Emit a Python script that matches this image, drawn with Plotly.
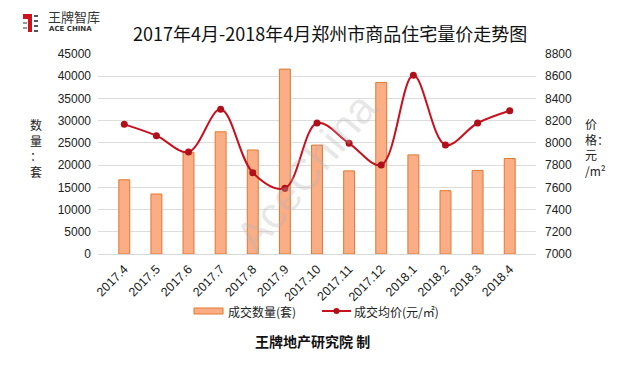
import plotly.graph_objects as go

months = ["2017.4", "2017.5", "2017.6", "2017.7", "2017.8", "2017.9", "2017.10",
          "2017.11", "2017.12", "2018.1", "2018.2", "2018.3", "2018.4"]
volume = [16700, 13500, 22900, 27500, 23400, 41600, 24500, 18700, 38600, 22300, 14250, 18800, 21500]
price = [8167, 8065, 7918, 8302, 7732, 7591, 8179, 7996, 7801, 8608, 7981, 8179, 8290]

left_ticks = list(range(0, 45001, 5000))
right_ticks = list(range(7000, 8801, 200))

# page has an 8px body margin; figure sized to fill the rest of the window
OFF = 8
W, H = 640 - OFF, 365 - OFF
# plot area in page pixels
PX0, PX1, PY0, PY1 = 98, 536, 54, 254


def px(x):
    return (x - PX0) / (PX1 - PX0)


def py(y):
    return (PY1 - y) / (PY1 - PY0)


FONT = "Noto Sans CJK SC, Noto Sans, sans-serif"
NUMFONT = "Liberation Sans"
BAR_FILL = "#FBAD86"
BAR_LINE = "#E0782F"
LINE_C = "#C8101E"

fig = go.Figure()
fig.add_trace(go.Bar(
    x=months, y=volume, name="成交数量(套)",
    marker=dict(color=BAR_FILL, line=dict(color=BAR_LINE, width=1)),
    yaxis="y",
))
fig.add_trace(go.Scatter(
    x=months, y=price, name="成交均价(元/㎡)", mode="lines+markers",
    line=dict(color=LINE_C, width=2, shape="spline", smoothing=1.0),
    marker=dict(color="#B0101A", size=7),
    yaxis="y2",
))


def ann(text, x, y, size, color="#222222", family=FONT, xanchor="center", **kw):
    return dict(text=text, x=px(x), y=py(y), xref="paper", yref="paper",
                xanchor=xanchor, yanchor="middle", showarrow=False,
                font=dict(size=size, color=color, family=family), **kw)


annotations = [
    ann("2017年4月-2018年4月郑州市商品住宅量价走势图", 330, 33, 18, "#111111"),
    ann("王牌智库", 46, 17, 13, "#333333", xanchor="left"),
    ann("<b>ACE CHINA</b>", 47, 29, 7, "#333333", family="DejaVu Sans", xanchor="left"),
    ann("数<br>量<br>：<br>套", 36, 148, 12),
    ann("价<br>格：<br>元<br>/m²", 583, 147, 12, xanchor="left", align="left"),
    ann("<b>王牌地产研究院 制</b>", 312, 341, 14, "#111111"),
    ann("AceChina", 305, 172, 44, "rgba(180,180,180,0.32)", family="Liberation Sans",
        textangle=-50),
    ann("成交数量(套)", 226, 311, 12, xanchor="left"),
    ann("成交均价(元/㎡)", 352, 311, 12, xanchor="left"),
]


def rect(x0, x1, y0, y1, fill, line=None):
    return dict(type="rect", xref="paper", yref="paper", x0=px(x0), x1=px(x1),
                y0=py(y1), y1=py(y0), fillcolor=fill,
                line=dict(width=1 if line else 0, color=line or fill))


shapes = [
    # logo icon
    rect(28, 32, 14, 32, "#D0121B"),
    rect(23, 28, 14, 19, "#D0121B"),
    rect(34, 38, 15, 17, "#555555"),
    rect(34, 38, 20, 22, "#555555"),
    rect(34, 38, 25, 27, "#555555"),
    rect(34, 38, 30, 32, "#555555"),
    rect(23, 27, 22, 24, "#999999"),
    rect(23, 27, 27, 29, "#999999"),
    # custom legend
    rect(194, 223, 308, 314, BAR_FILL, BAR_LINE),
    dict(type="line", xref="paper", yref="paper", x0=px(322), x1=px(351),
         y0=py(311), y1=py(311), line=dict(color=LINE_C, width=2)),
    dict(type="circle", xref="paper", yref="paper", x0=px(333.5), x1=px(339.5),
         y0=py(314), y1=py(308), fillcolor="#B0101A", line=dict(width=0)),
]

fig.update_layout(
    width=W, height=H,
    margin=dict(l=PX0 - OFF, r=640 - PX1, t=PY0 - OFF, b=365 - PY1, autoexpand=False),
    paper_bgcolor="white", plot_bgcolor="white",
    font=dict(family=FONT, size=12, color="#222222"),
    bargap=0.66,
    showlegend=False,
    xaxis=dict(tickangle=-45, showgrid=False, showline=True, linecolor="#D9D9D9",
               tickfont=dict(size=12.5, family=NUMFONT, color="#222222"),
               ticks="", automargin=False, ticklabelstandoff=2),
    yaxis=dict(range=[0, 45000], tickvals=left_ticks, ticktext=[str(v) for v in left_ticks],
               showgrid=True, gridcolor="#DDDDDD",
               zeroline=False, showline=False, automargin=False, ticklabelstandoff=6,
               tickfont=dict(size=12, family=NUMFONT, color="#222222")),
    yaxis2=dict(range=[7000, 8800], tickvals=right_ticks, ticktext=[str(v) for v in right_ticks],
                overlaying="y", side="right", automargin=False, ticklabelstandoff=8,
                showgrid=False, zeroline=False, showline=False,
                tickfont=dict(size=12, family=NUMFONT, color="#222222")),
    annotations=annotations,
    shapes=shapes,
)

fig.write_html("out.html")
